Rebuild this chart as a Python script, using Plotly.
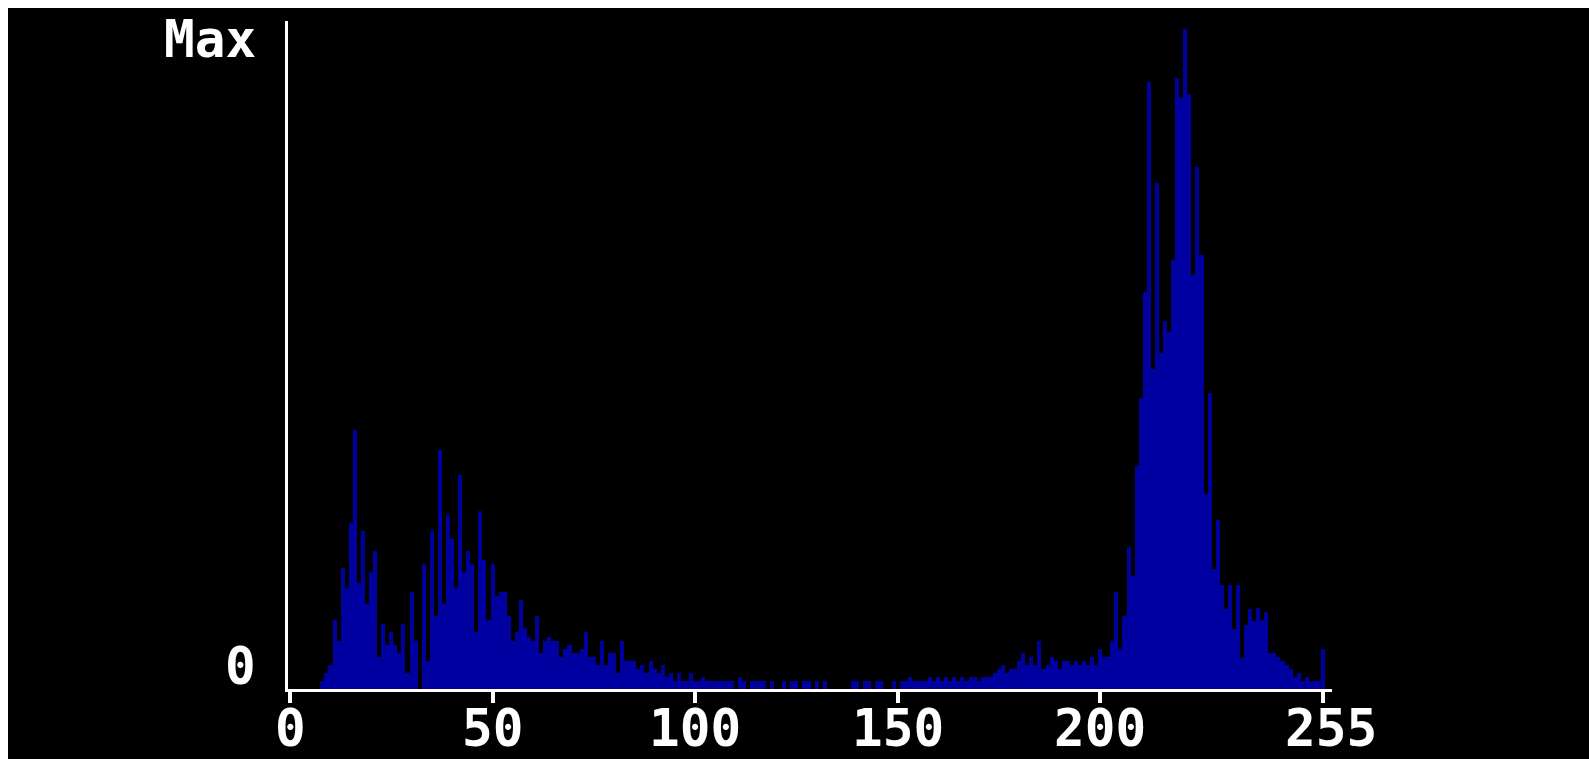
import plotly.graph_objects as go

# ---- data ----
levels = list(range(256))
counts = [
    0, 0, 0, 0, 0, 0, 0, 0,
    8, 16, 24, 69, 48, 121, 101, 166,
    259, 106, 158, 85, 117, 138, 32, 65,
    44, 57, 44, 36, 65, 16, 97, 48,
    0, 125, 28, 158, 73, 239, 85, 174,
    150, 101, 214, 117, 138, 125, 57, 178,
    129, 69, 125, 93, 97, 97, 73, 48,
    57, 89, 61, 52, 48, 73, 36, 48,
    52, 48, 48, 32, 40, 44, 36, 36,
    40, 57, 32, 32, 24, 48, 24, 36,
    36, 16, 48, 28, 28, 28, 20, 24,
    16, 28, 20, 16, 24, 12, 16, 8,
    16, 8, 8, 16, 8, 8, 12, 8,
    8, 8, 8, 8, 8, 8, 0, 12,
    8, 0, 8, 8, 8, 8, 0, 8,
    0, 0, 8, 0, 8, 8, 0, 8,
    8, 0, 8, 0, 8, 0, 0, 0,
    0, 0, 0, 8, 8, 0, 8, 8,
    0, 8, 8, 0, 0, 8, 0, 8,
    8, 12, 8, 8, 8, 8, 12, 8,
    12, 8, 12, 8, 12, 8, 12, 8,
    12, 12, 8, 12, 12, 12, 16, 20,
    24, 16, 20, 20, 28, 36, 24, 32,
    24, 48, 20, 24, 32, 28, 20, 28,
    28, 24, 28, 24, 28, 24, 32, 24,
    40, 32, 32, 48, 97, 40, 73, 142,
    113, 223, 291, 397, 607, 320, 506, 336,
    368, 357, 429, 611, 591, 660, 595, 414,
    522, 434, 195, 296, 120, 169, 104, 80,
    104, 60, 104, 31, 64, 80, 68, 81,
    69, 77, 36, 36, 32, 28, 24, 20,
    12, 16, 8, 12, 8, 8, 8, 40,
]
x_tick_vals = [0, 50, 100, 150, 200, 255]
x_tick_text = ["0", "50", "100", "150", "200", "255"]
y_labels = ["Max", "0"]

# ---- layout geometry ----
W, H = 1589, 759
L, R, T, B = 288, 257, 21, 70
plot_w = W - L - R
plot_h = H - T - B
y_top = 668
FONT = dict(family="DejaVu Sans Mono, Liberation Mono, monospace", size=51, color="white", weight="bold")
BLUE = "#0000A0"


def px_to_paper_x(px):
    return (px - L) / plot_w


def px_to_paper_y(py):
    return (H - B - py) / plot_h


fig = go.Figure()
fig.add_trace(go.Bar(
    x=levels, y=counts, width=1.0,
    marker=dict(color=BLUE, line=dict(width=0)),
    hoverinfo="x+y",
))

shapes = [dict(
    type="rect", xref="paper", yref="paper", layer="below",
    x0=px_to_paper_x(8), x1=px_to_paper_x(W + 2),
    y0=px_to_paper_y(H + 2), y1=px_to_paper_y(8),
    fillcolor="black", line=dict(width=0),
)]

annotations = []
for v, t in zip(x_tick_vals, x_tick_text):
    annotations.append(dict(
        x=v, y=0, xref="x", yref="y", text=t, showarrow=False,
        xanchor="center", yanchor="middle", yshift=-39,
        xshift=(8 if v == 255 else 0), font=FONT, borderpad=0,
    ))
annotations.append(dict(
    x=0, y=y_top - 18, xref="paper", yref="y", text=y_labels[0], showarrow=False,
    xanchor="right", yanchor="middle", xshift=-30, font=FONT,
))
annotations.append(dict(
    x=0, y=23, xref="paper", yref="y", text=y_labels[1], showarrow=False,
    xanchor="right", yanchor="middle", xshift=-30, font=FONT,
))

fig.update_layout(
    width=W, height=H,
    margin=dict(l=L, r=R, t=T, b=B, pad=0),
    paper_bgcolor="white", plot_bgcolor="black",
    bargap=0, showlegend=False,
    shapes=shapes, annotations=annotations,
    xaxis=dict(
        range=[(L - 290) / 4.051, (W - R - 290) / 4.051],
        showgrid=False, zeroline=False,
        showline=True, linecolor="white", linewidth=3,
        ticks="outside", tickvals=x_tick_vals, ticklen=11, tickwidth=4, tickcolor="white",
        showticklabels=False, fixedrange=True,
    ),
    yaxis=dict(
        range=[0, y_top],
        showgrid=False, zeroline=False,
        showline=True, linecolor="white", linewidth=3,
        ticks="", showticklabels=False, fixedrange=True,
    ),
)

fig.write_html("out.html", config={"displayModeBar": False})
